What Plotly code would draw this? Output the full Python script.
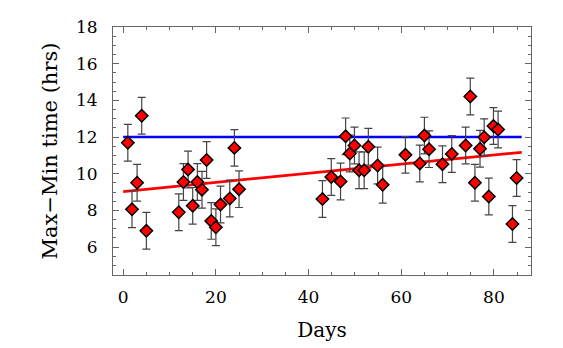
import plotly.graph_objects as go

days = [1.0, 4.0, 3.0, 1.9, 5.0, 12.0, 13.0, 14.0, 15.0, 16.0, 17.0, 18.0,
        19.0, 20.0, 21.0, 23.0, 24.0, 25.0,
        43.0, 44.9, 46.9, 48.0, 48.9, 49.9, 50.9, 52.0, 52.9, 54.9, 56.0, 60.9,
        64.0, 65.0, 66.0, 68.9, 70.9, 73.9, 74.9, 75.9, 77.0, 77.9, 78.9,
        79.9, 80.9, 84.0, 84.9]
hours = [11.69, 13.16, 9.51, 8.06, 6.89, 7.90, 9.55, 10.23, 8.25, 9.55, 9.13,
         10.75, 7.43, 7.08, 8.32, 8.65, 11.41, 9.16,
         8.62, 9.82, 9.58, 12.04, 11.10, 11.54, 10.19, 10.19, 11.47, 10.45,
         9.40, 11.03,
         10.56, 12.08, 11.34, 10.52, 11.08, 11.54, 14.21, 9.51, 11.36, 11.99,
         8.76, 12.60, 12.41, 7.26, 9.77]
errors = [1.0] * len(days)

ref_x = [0, 86]
ref_y = [12.0, 12.0]
fit_x = [0, 86]
fit_y = [9.03, 11.17]

fig = go.Figure()

fig.add_trace(go.Scatter(x=ref_x, y=ref_y, mode="lines",
                         line=dict(color="#0000ff", width=2.5)))
fig.add_trace(go.Scatter(x=fit_x, y=fit_y, mode="lines",
                         line=dict(color="#ff0000", width=2.8)))
fig.add_trace(go.Scatter(
    x=days, y=hours, mode="markers",
    error_y=dict(type="data", array=errors, visible=True,
                 color="#444444", thickness=1.2, width=4),
    marker=dict(symbol="diamond", size=9.5, color="#ff0000",
                line=dict(color="black", width=1.5)),
))

serif = "DejaVu Serif"
tick_font = dict(family=serif, size=17, color="black")

fig.update_layout(
    width=563, height=348,
    # page body adds 8px, so margins are shifted by that
    margin=dict(l=105, r=40, t=9, b=81),
    paper_bgcolor="white", plot_bgcolor="white",
    showlegend=False,
    font=dict(family=serif, size=17, color="black"),
)
fig.update_xaxes(
    range=[-2.2, 88], tickvals=[0, 20, 40, 60, 80],
    ticks="inside", ticklen=6, tickcolor="#666666",
    minor=dict(dtick=5, ticks="inside", ticklen=3, tickcolor="#666666"),
    showline=True, linecolor="#666666", linewidth=1, mirror="ticks",
    showgrid=False, zeroline=False, ticklabelstandoff=7,
    title=dict(text="Days", font=dict(family=serif, size=20), standoff=16),
    tickfont=tick_font,
)
fig.update_yaxes(
    range=[4.48, 18], tickvals=[6, 8, 10, 12, 14, 16, 18],
    ticks="inside", ticklen=6, tickcolor="#666666",
    minor=dict(dtick=0.5, tick0=0, ticks="inside", ticklen=3, tickcolor="#666666"),
    showline=True, linecolor="#666666", linewidth=1, mirror="ticks",
    showgrid=False, zeroline=False, ticklabeloverflow="allow",
    ticklabelstandoff=11,
    title=dict(text="Max\u2212Min time (hrs)", font=dict(family=serif, size=21), standoff=12),
    tickfont=tick_font,
)

fig.write_html("out.html")
